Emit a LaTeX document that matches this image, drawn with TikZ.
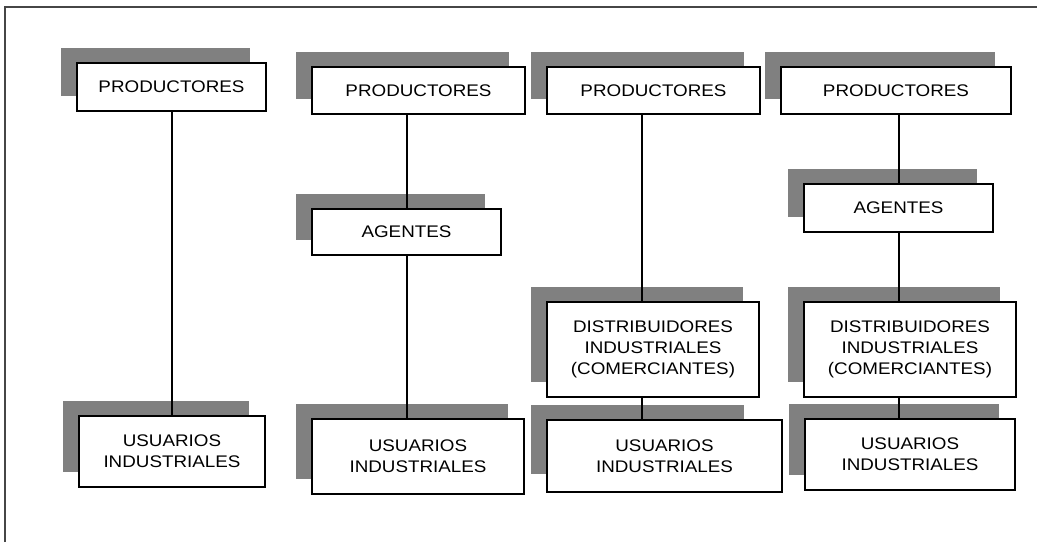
\documentclass[tikz,border=0pt]{standalone}
\usepackage{fontspec}
\usepackage{xcolor}
\usetikzlibrary{shadows}
\newfontfamily\boxfont{Liberation Sans}[FakeStretch=1.12]
\definecolor{shgray}{RGB}{128,128,128}
\definecolor{framegray}{RGB}{70,70,70}
\tikzset{
  plainbox/.style={draw, line width=1.5pt, fill=white, align=center, inner sep=0pt, outer sep=0pt,
    font=\boxfont\fontsize{16.8}{21}\selectfont},
  box/.style={plainbox, general shadow={fill=shgray, shadow xshift=-16pt, shadow yshift=15pt}},
  link/.style={line width=1.3pt}
}

\begin{document}
\begin{tikzpicture}[x=1pt, y=-1pt]
    \useasboundingbox (0,0) rectangle (1037,542);
    \draw[framegray, line width=1.6pt] (5,542) -- (5,7) -- (1037,7);
    % column x of the links
    \coordinate (c1) at (172,0);
    \coordinate (c2) at (407,0);
    \coordinate (c3) at (642,0);
    \coordinate (c4) at (899,0);
    % productores -> usuarios
    \node[box, minimum width=189pt, minimum height=48pt] (p1) at (171.5,87) {PRODUCTORES};
    \node[box, minimum width=186pt, minimum height=71pt] (u1) at (172,451.5) {USUARIOS\\INDUSTRIALES};
    % productores -> agentes -> usuarios
    \node[box, minimum width=213pt, minimum height=47pt] (p2) at (418.5,90.5) {PRODUCTORES};
    \node[box, minimum width=189pt, minimum height=46pt] (a2) at (406.5,232) {AGENTES};
    \node[box, minimum width=212pt, minimum height=75pt] (u2) at (418,456.5) {USUARIOS\\INDUSTRIALES};
    % productores -> distribuidores -> usuarios
    \node[box, minimum width=213pt, minimum height=47pt] (p3) at (653.5,90.5) {PRODUCTORES};
    \node[box, minimum width=212pt, minimum height=95pt] (d3) at (653,349.5) {DISTRIBUIDORES\\INDUSTRIALES\\(COMERCIANTES)};
    \fill[shgray] (531,405) rectangle (744,474);
    \node[plainbox, minimum width=235pt, minimum height=72pt] (u3) at (664.5,456) {USUARIOS\\INDUSTRIALES};
    % productores -> agentes -> distribuidores -> usuarios
    \node[box, minimum width=230pt, minimum height=47pt] (p4) at (896,90.5) {PRODUCTORES};
    \node[box, minimum width=189pt, minimum height=48pt] (a4) at (898.5,208) {AGENTES};
    \node[box, minimum width=212pt, minimum height=95pt] (d4) at (910,349.5) {DISTRIBUIDORES\\INDUSTRIALES\\(COMERCIANTES)};
    \node[box, minimum width=210pt, minimum height=71pt] (u4) at (910,454.5) {USUARIOS\\INDUSTRIALES};
    \draw[link] (p1.south -| c1) -- (u1.north -| c1);
    \draw[link] (p2.south -| c2) -- (a2.north -| c2);
    \draw[link] (a2.south -| c2) -- (u2.north -| c2);
    \draw[link] (p3.south -| c3) -- (d3.north -| c3);
    \draw[link] (d3.south -| c3) -- (u3.north -| c3);
    \draw[link] (p4.south -| c4) -- (a4.north -| c4);
    \draw[link] (a4.south -| c4) -- (d4.north -| c4);
    \draw[link] (d4.south -| c4) -- (u4.north -| c4);
\end{tikzpicture}
\end{document}
